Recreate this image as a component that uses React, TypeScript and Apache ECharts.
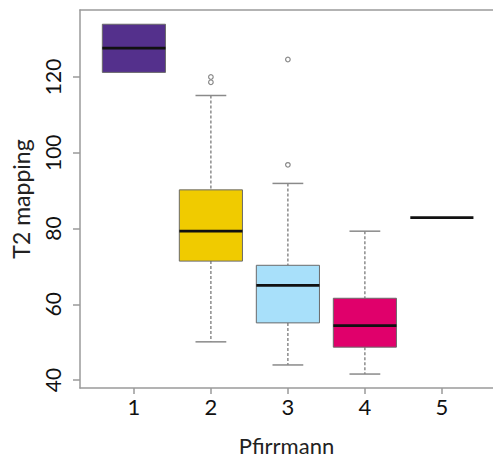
import React, { useEffect, useRef } from "react";
import * as echarts from "echarts";

const categories = [1, 2, 3, 4, 5];
const whiskerLow = [121.2, 50.1, 44.0, 41.6, 82.9];
const q1 = [121.2, 71.4, 55.1, 48.7, 82.9];
const median = [127.6, 79.3, 65.0, 54.4, 82.9];
const q3 = [133.9, 90.2, 70.3, 61.6, 82.9];
const whiskerHigh = [133.9, 115.1, 91.9, 79.3, 82.9];
const boxColors = ["#54308c", "#f0cb00", "#a8e0fa", "#e0006b", "#ffffff"];
const outlierX = [2, 2, 3, 3];
const outlierY = [120.0, 118.6, 96.8, 124.6];
const yTicks = [40, 60, 80, 100, 120];

const FONT = "Lato";
const AXIS_COLOR = "#9a9a9a";
const X_MIN = 0.3;
const X_MAX = 5.664;

export default function App() {
  const ref = useRef<HTMLDivElement>(null);
  useEffect(() => {
    if (!ref.current) return;
    const chart = echarts.init(ref.current, null, { renderer: "svg" });
    const boxData = categories.map((c, i) => [
      c,
      whiskerLow[i],
      q1[i],
      median[i],
      q3[i],
      whiskerHigh[i],
    ]);
    const outlierData = outlierX.map((x, i) => [x, outlierY[i]]);
    const renderItem = (params: any, api: any) => {
      const x = api.value(0);
      const lo = api.value(1);
      const b1 = api.value(2);
      const md = api.value(3);
      const b3 = api.value(4);
      const hi = api.value(5);
      const cx = api.coord([x, md])[0];
      const left = api.coord([x - 0.41, md])[0];
      const right = api.coord([x + 0.41, md])[0];
      const capL = api.coord([x - 0.2, md])[0];
      const capR = api.coord([x + 0.2, md])[0];
      const yLo = api.coord([x, lo])[1];
      const y1 = api.coord([x, b1])[1];
      const yMd = api.coord([x, md])[1];
      const y3 = api.coord([x, b3])[1];
      const yHi = api.coord([x, hi])[1];
      const children: any[] = [];
      const dashStyle = { stroke: "#7a7a7a", lineWidth: 1.3, lineDash: [3, 2] };
      const capStyle = { stroke: "#8a8a8a", lineWidth: 1.5 };
      if (hi > b3) {
        children.push({ type: "line", shape: { x1: cx, y1: yHi, x2: cx, y2: y3 }, style: dashStyle });
        children.push({ type: "line", shape: { x1: capL, y1: yHi, x2: capR, y2: yHi }, style: capStyle });
      }
      if (lo < b1) {
        children.push({ type: "line", shape: { x1: cx, y1: y1, x2: cx, y2: yLo }, style: dashStyle });
        children.push({ type: "line", shape: { x1: capL, y1: yLo, x2: capR, y2: yLo }, style: capStyle });
      }
      if (b3 > b1) {
        children.push({
          type: "rect",
          shape: { x: left, y: y3, width: right - left, height: y1 - y3 },
          style: { fill: boxColors[params.dataIndex], stroke: "#6a6a6a", lineWidth: 1 },
        });
      }
      children.push({
        type: "line",
        shape: { x1: left, y1: yMd, x2: right, y2: yMd },
        style: { stroke: "#111111", lineWidth: 2.8 },
      });
      return { type: "group", children };
    };
    const renderOutlier = (params: any, api: any) => {
      const p = api.coord([api.value(0), api.value(1)]);
      return {
        type: "circle",
        shape: { cx: p[0], cy: p[1], r: 2.3 },
        style: { fill: "#ffffff", stroke: "#8a8a8a", lineWidth: 1.2 },
      };
    };
    chart.setOption({
      animation: false,
      backgroundColor: "#ffffff",
      grid: {
        left: 80,
        top: 10,
        right: 0,
        bottom: 67,
        show: false,
      },
      xAxis: [
        {
          type: "value",
          min: X_MIN,
          max: X_MAX,
          position: "bottom",
          name: "Pfirrmann",
          nameLocation: "middle",
          nameGap: 46,
          nameTextStyle: { fontFamily: FONT, fontSize: 22, color: "#222", verticalAlign: "top" },
          axisLine: { show: true, onZero: false, lineStyle: { color: AXIS_COLOR, width: 1.5 } },
          axisTick: {
            show: true,
            length: 6,
            customValues: categories,
            lineStyle: { color: AXIS_COLOR, width: 1.5 },
          },
          axisLabel: {
            customValues: categories,
            margin: 7,
            fontFamily: FONT,
            fontSize: 22,
            color: "#111",
          },
          splitLine: { show: false },
        },
        {
          type: "value",
          min: X_MIN,
          max: X_MAX,
          position: "top",
          axisLine: { show: true, onZero: false, lineStyle: { color: AXIS_COLOR, width: 1.5 } },
          axisTick: { show: false },
          axisLabel: { show: false },
          splitLine: { show: false },
        },
      ],
      yAxis: {
        type: "value",
        min: 37.92,
        max: 137.66,
        name: "T2 mapping",
        nameLocation: "middle",
        nameRotate: 90,
        nameGap: 48,
        nameTextStyle: { fontFamily: FONT, fontSize: 23, color: "#222" },
        axisLine: { show: true, onZero: false, lineStyle: { color: AXIS_COLOR, width: 1.5 } },
        axisTick: {
          show: true,
          length: 7,
          customValues: yTicks,
          lineStyle: { color: AXIS_COLOR, width: 1.5 },
        },
        axisLabel: {
          customValues: yTicks,
          rotate: 90,
          margin: 17,
          fontFamily: FONT,
          fontSize: 21,
          color: "#111",
        },
        splitLine: { show: false },
      },
      series: [
        {
          type: "custom",
          renderItem,
          data: boxData,
          xAxisIndex: 0,
          encode: { x: 0, y: [1, 2, 3, 4, 5] },
          clip: false,
        },
        {
          type: "custom",
          renderItem: renderOutlier,
          data: outlierData,
          xAxisIndex: 0,
          encode: { x: 0, y: 1 },
          z: 5,
        },
      ],
    });
    return () => chart.dispose();
  }, []);
  return (
    <div
      ref={ref}
      style={{ position: "fixed", left: 0, top: 0, width: 493, height: 461 }}
    />
  );
}
